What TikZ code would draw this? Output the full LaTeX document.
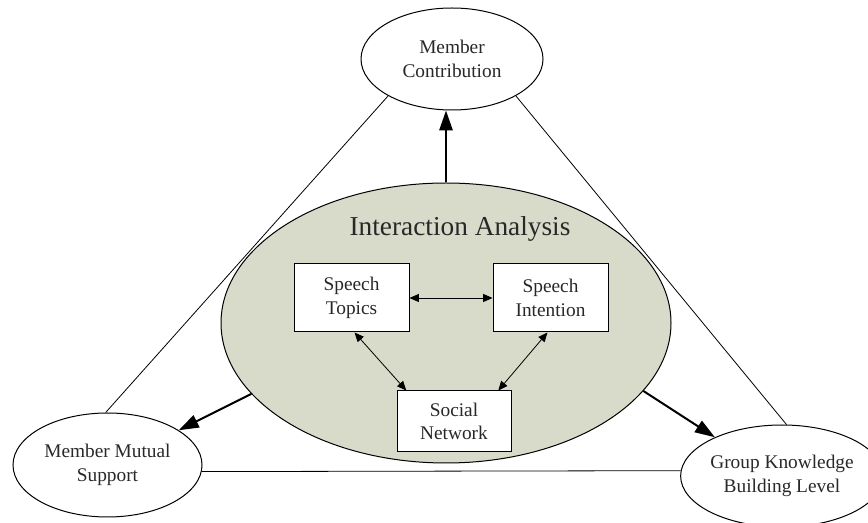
\documentclass[tikz,border=0pt]{standalone}
\usepackage{fontspec}
\setmainfont{Liberation Serif}
\usetikzlibrary{shapes.geometric,arrows.meta}

\definecolor{sagefill}{RGB}{216,219,201}
\definecolor{inkgray}{RGB}{40,40,40}

\tikzset{every picture/.style={line width=0.75pt}}
\tikzset{
  outcome/.style={draw, ellipse, inner sep=0pt, align=center, text=inkgray,
    font=\fontsize{14.5}{17.5}\selectfont},
  partbox/.style={draw, rectangle, fill=white, inner sep=0pt, align=center, text=inkgray,
    font=\fontsize{14.5}{17.5}\selectfont},
  thinlink/.style={line width=0.6pt},
  bigarrow/.style={line width=1.5pt, -{Triangle[length=15pt,width=10pt]}},
  twoway/.style={line width=0.6pt, {Triangle[length=7pt,width=6pt]}-{Triangle[length=7pt,width=6pt]}},
}

\begin{document}
\begin{tikzpicture}[x=0.75pt,y=0.75pt,yscale=-1,xscale=1]
\useasboundingbox (0,0) rectangle (868,523);

% Outer ellipses
\node [outcome, minimum width=136.5pt, minimum height=76.5pt] (contrib) at (452,59) {Member\\Contribution};
\node [outcome, minimum width=141.75pt, minimum height=78pt] (support) at (107.5,465) {Member Mutual\\Support};
\node [outcome, minimum width=135pt, minimum height=76.5pt] (knowledge) at (782,476) {Group Knowledge\\Building Level};

% Triangle lines
\draw [thinlink] (contrib.210) -- (support.92);
\draw [thinlink] (contrib.330) -- (knowledge.85);
\draw [thinlink] (support.-4) -- (knowledge.177.5);

% Big ellipse
\node [draw, ellipse, fill=sagefill, minimum width=337.5pt, minimum height=210pt, inner sep=0pt] (analysis) at (446,323) {};
% Text Node
\node [anchor=base, text=inkgray, font=\fontsize{20.5}{24}\selectfont] (title) at (460,236) {Interaction Analysis};

% Boxes
\node [partbox, minimum width=86.25pt, minimum height=51pt] (topics) at (351.5,298) {Speech\\Topics};
\node [partbox, minimum width=86.25pt, minimum height=51pt] (intention) at (550.5,298) {Speech\\Intention};
\node [partbox, minimum width=85.5pt, minimum height=45.75pt] (social) at (454,421.5) {Social\\Network};

% Inner arrows
\draw [twoway] (topics.east) -- (intention.west);
\draw [twoway] (topics.-85) -- (social.147);
\draw [twoway] (intention.-95) -- (social.35);

% Thick arrows
\draw [bigarrow] (analysis.north) -- (analysis.north |- contrib.south);
\draw [bigarrow] (analysis.200) -- (support.26);
\draw [bigarrow] (analysis.-19) -- (knowledge.150);

\end{tikzpicture}
\end{document}
